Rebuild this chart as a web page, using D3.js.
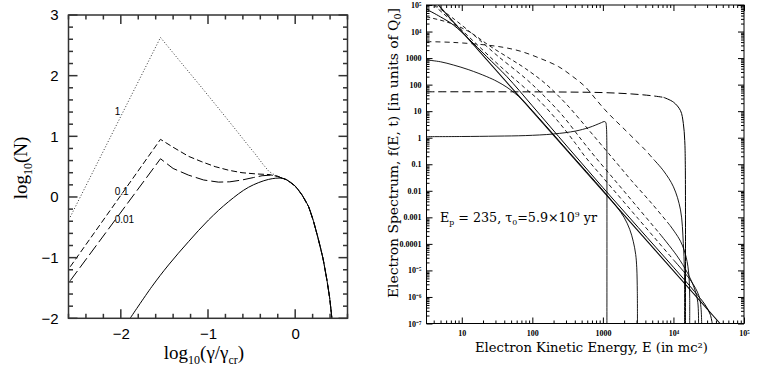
<!DOCTYPE html>
<html><head><meta charset="utf-8">
<script src="https://cdn.jsdelivr.net/npm/d3@7"></script>
<style>body{margin:0;background:#fff}</style>
</head><body>
<svg id="c" width="761" height="373" xmlns="http://www.w3.org/2000/svg"></svg>
<script>
// ---------------- LEFT PANEL DATA: [log10(gamma/gamma_cr), log10(N)] ----------------
const leftCurveLabels = ["1", "0.1", "0.01"];
const leftDotted = [[-2.58,-0.33],[-1.545,2.63],[-1.3,2.2],[-1.07,1.8],[-0.85,1.41],[-0.688,1.12],[-0.55,0.87],[-0.459,0.71],[-0.37,0.54],[-0.3,0.42],[-0.22,0.35],[-0.15,0.31]];
const leftDash01 = [[-2.58,-1.15],[-1.545,0.95],[-1.4,0.82],[-1.223,0.67],[-1.07,0.58],[-0.918,0.5],[-0.76,0.44],[-0.61,0.4],[-0.45,0.38],[-0.3,0.37],[-0.2,0.34],[-0.15,0.31]];
const leftDash001 = [[-2.58,-1.38],[-1.545,0.63],[-1.4,0.47],[-1.223,0.36],[-1.05,0.28],[-0.88,0.245],[-0.75,0.25],[-0.61,0.28],[-0.48,0.32],[-0.38,0.35],[-0.28,0.36],[-0.2,0.34],[-0.15,0.31]];
const leftSolid = [[-1.893,-2.0],[-1.644,-1.478],[-1.453,-1.121],[-1.223,-0.736],[-0.994,-0.379],[-0.764,-0.077],[-0.535,0.16],[-0.305,0.29],[-0.153,0.31]];
const leftTail = [[-0.1,0.285],[0,0.18],[0.08,0.03],[0.154,-0.16],[0.21,-0.4],[0.268,-0.71],[0.32,-1.02],[0.364,-1.37],[0.395,-1.66],[0.421,-2.0]];
const leftTicksX = [-2,-1,0];
const leftTickLabelsX = ["\u22122","\u22121","0"];
const leftTicksY = [-2,-1,0,1,2,3];
const leftTickLabelsY = ["\u22122","\u22121","0","1","2","3"];

// ---------------- RIGHT PANEL DATA: [log10(E), log10(f)] ----------------
const rA  = [[0.5,0.04],[1.0,0.045],[1.5,0.06],[1.9,0.08],[2.3,0.14],[2.61,0.25],[2.8,0.38],[2.9,0.48],[2.98,0.57],[3.02,0.61],[3.04,0.58],[3.05,0.4],[3.055,0],[3.057,-1],[3.057,-7]];
const rB  = [[0.5,2.93],[0.7,2.86],[0.88,2.74],[1.1,2.56],[1.355,2.3],[1.5,2.12],[1.64,1.9],[1.75,1.68],[1.85,1.45],[2.0,1.02],[2.5,-0.48],[3.0,-1.98],[3.2,-2.62],[3.3,-3.0],[3.38,-3.45],[3.43,-3.9],[3.465,-4.4],[3.48,-4.9],[3.488,-5.8],[3.49,-7]];
const rP1 = [[0.668,5],[4.66,-7]];
const rP2 = [[0.5,4.84],[0.7,4.55],[0.88,4.25],[1.1,3.72],[1.355,3.05],[1.64,2.3],[2.0,1.2],[2.5,-0.35],[3.0,-1.88],[3.5,-3.38],[4.0,-4.88],[4.3,-5.8],[4.45,-6.3],[4.52,-6.65],[4.55,-7]];
const rDa = [[0.5,3.62],[0.88,3.59],[1.355,3.49],[1.6,3.4],[1.83,3.26],[2.1,3.0],[2.37,2.68],[2.55,2.35],[2.75,1.92],[2.9,1.45],[3.03,1.05],[3.15,0.72],[3.27,0.41],[3.46,-0.09],[3.6,-0.46],[3.72,-0.82],[3.86,-1.25],[4.0,-1.85],[4.1,-2.72],[4.14,-3.98],[4.155,-5],[4.157,-7]];
const rC  = [[0.5,1.73],[1.5,1.73],[2.5,1.72],[3.0,1.7],[3.4,1.65],[3.7,1.58],[3.86,1.52],[4.0,1.34],[4.1,1.02],[4.14,0.54],[4.16,-0.1],[4.168,-1],[4.17,-7]];
const rL2 = [[0.5,4.55],[0.8,4.35],[1.1,4.0],[1.4,3.45],[1.7,2.95],[1.9,2.61],[2.18,2.05],[2.47,1.3],[2.8,0.29],[3.08,-0.59],[3.22,-1.03],[3.4,-1.6],[3.7,-2.5],[3.95,-3.3],[4.1,-3.9],[4.18,-4.5],[4.22,-5.2],[4.23,-6],[4.23,-7]];
const rL3 = [[0.62,5],[0.9,4.45],[1.2,3.8],[1.5,3.1],[1.9,2.24],[2.13,1.67],[2.42,0.86],[2.7,-0.09],[2.89,-0.72],[3.2,-1.7],[3.5,-2.65],[3.8,-3.6],[4.05,-4.45],[4.2,-5.1],[4.3,-5.7],[4.345,-6.2],[4.356,-7]];
const rL4 = [[0.6,5],[0.9,4.3],[1.2,3.55],[1.5,2.8],[1.9,1.86],[2.09,1.42],[2.37,0.6],[2.61,-0.21],[2.75,-0.72],[3.0,-1.5],[3.5,-3.05],[4.0,-4.6],[4.25,-5.4],[4.36,-5.95],[4.39,-6.4],[4.4,-7]];
const rightTicksX = [10,100,1000,1e4,1e5];
const rightTickLabelsX = ["10","100","1000","10\u2074","10\u2075"];
const rightTicksY = [1e5,1e4,1e3,1e2,10,1,0.1,0.01,1e-3,1e-4,1e-5,1e-6,1e-7];
const rightTickLabelsY = ["10\u2075","10\u2074","1000","100","10","1","0.1","0.01","0.001","0.0001","10\u207B\u2075","10\u207B\u2076","10\u207B\u2077"];

// ---------------- DRAW ----------------
const svg = d3.select("#c");
svg.append("rect").attr("width",761).attr("height",373).attr("fill","#fff");

// LEFT
const L = {x0:68.5, x1:347.5, y0:15, y1:318.3};
const xL = d3.scaleLinear().domain([-2.6,0.6]).range([L.x0,L.x1]);
const yL = d3.scaleLinear().domain([-2,3]).range([L.y1,L.y0]);
const gL = svg.append("g");
const lineL = d3.line().x(d=>xL(d[0])).y(d=>yL(d[1]));
const lineLs = d3.line().x(d=>xL(d[0])).y(d=>yL(d[1])).curve(d3.curveCatmullRom.alpha(0.5));
gL.append("defs").append("clipPath").attr("id","clipL").append("rect")
  .attr("x",L.x0).attr("y",L.y0).attr("width",L.x1-L.x0).attr("height",L.y1-L.y0);
const plotL = gL.append("g").attr("clip-path","url(#clipL)").attr("fill","none");
plotL.append("path").attr("d",lineL(leftDotted.concat(leftTail))).attr("stroke","#333").attr("stroke-width",1).attr("stroke-dasharray","1,2");
plotL.append("path").attr("d",lineL(leftDash01.concat(leftTail))).attr("stroke","#000").attr("stroke-width",1).attr("stroke-dasharray","6,3");
plotL.append("path").attr("d",lineL(leftDash001.concat(leftTail))).attr("stroke","#000").attr("stroke-width",1).attr("stroke-dasharray","12,4");
plotL.append("path").attr("d",lineLs(leftSolid.concat(leftTail))).attr("stroke","#000").attr("stroke-width",1);

function minorRange(a,b,step){const r=[];for(let v=a;v<=b+1e-9;v+=step){r.push(+v.toFixed(3));}return r;}
const minorXL = minorRange(-2.6,0.6,0.2).filter(v=>Math.abs(v-Math.round(v))>1e-6);
const minorYL = minorRange(-2,3,0.2).filter(v=>Math.abs(v-Math.round(v))>1e-6);
function styleAxis(g){g.select(".domain").remove();g.selectAll("line").attr("stroke","#000").attr("stroke-width",1);}
const lFont = "Liberation Sans, Arial, sans-serif";
// tick labels via d3 axes
gL.append("g").attr("transform",`translate(0,${L.y1})`)
  .call(d3.axisBottom(xL).tickValues(leftTicksX).tickSize(0).tickPadding(10).tickFormat((d,i)=>leftTickLabelsX[i]))
  .call(styleAxis).selectAll("text").attr("font-family",lFont).attr("font-size",15).attr("fill","#000");
gL.append("g").attr("transform",`translate(${L.x0},0)`)
  .call(d3.axisLeft(yL).tickValues(leftTicksY).tickSize(0).tickPadding(10).tickFormat((d,i)=>leftTickLabelsY[i]))
  .call(styleAxis).selectAll("text").attr("font-family",lFont).attr("font-size",15).attr("fill","#000");
// inward tick marks on all four sides
const tickG = gL.append("g").attr("stroke","#333").attr("stroke-width",1.5);
function xTicks(vals,len){
  vals.forEach(v=>{
    tickG.append("line").attr("x1",xL(v)).attr("x2",xL(v)).attr("y1",L.y1).attr("y2",L.y1-len);
    tickG.append("line").attr("x1",xL(v)).attr("x2",xL(v)).attr("y1",L.y0).attr("y2",L.y0+len);
  });
}
function yTicks(vals,len){
  vals.forEach(v=>{
    tickG.append("line").attr("y1",yL(v)).attr("y2",yL(v)).attr("x1",L.x0).attr("x2",L.x0+len);
    tickG.append("line").attr("y1",yL(v)).attr("y2",yL(v)).attr("x1",L.x1).attr("x2",L.x1-len);
  });
}
xTicks(leftTicksX,9); xTicks(minorXL,4.5);
yTicks(leftTicksY,9); yTicks(minorYL,4.5);
gL.append("rect").attr("x",L.x0).attr("y",L.y0).attr("width",L.x1-L.x0).attr("height",L.y1-L.y0).attr("fill","none").attr("stroke","#333").attr("stroke-width",1.5);

// curve labels
const labPos = [[-2.07,1.35],[-2.07,0.03],[-2.07,-0.43]];
gL.selectAll("text.cl").data(leftCurveLabels).enter().append("text").attr("class","cl")
  .attr("x",(d,i)=>xL(labPos[i][0])).attr("y",(d,i)=>yL(labPos[i][1]))
  .attr("font-family",lFont).attr("font-size",10).attr("fill","#000").text(d=>d);

// left axis titles
const serif = "Liberation Serif, Times New Roman, serif";
const tY = gL.append("text").attr("transform","translate(27,168) rotate(-90)").attr("text-anchor","middle")
  .attr("font-family",serif).attr("font-size",19).attr("fill","#000");
tY.append("tspan").text("log");
tY.append("tspan").attr("dy",5).attr("font-size",12).text("10");
tY.append("tspan").attr("dy",-5).text("(N)");
const tX = gL.append("text").attr("x",204).attr("y",359).attr("text-anchor","middle")
  .attr("font-family",serif).attr("font-size",19).attr("fill","#000");
tX.append("tspan").text("log");
tX.append("tspan").attr("dy",5).attr("font-size",12).text("10");
tX.append("tspan").attr("dy",-5).text("(\u03B3/\u03B3");
tX.append("tspan").attr("dy",5).attr("font-size",12).text("cr");
tX.append("tspan").attr("dy",-5).text(")");

// RIGHT
const xR = d3.scaleLog().domain([Math.sqrt(10),1e5]).range([426.5,744]);
const yR = d3.scaleLog().domain([1e-7,1e5]).range([323.5,5]);
const gR = svg.append("g");
gR.append("defs").append("clipPath").attr("id","clipR").append("rect")
  .attr("x",426.5).attr("y",5).attr("width",317.5).attr("height",318.5);
const plotR = gR.append("g").attr("clip-path","url(#clipR)").attr("fill","none");
const lineR = d3.line().x(d=>xR(Math.pow(10,d[0]))).y(d=>yR(Math.pow(10,d[1]))).curve(d3.curveCatmullRom.alpha(0.5));
// dashed curves turn solid-looking on their steep high-energy cutoffs (as in the original plot)
const rSeries = [
  {d:rA, dash:null, w:0.9},
  {d:rB, dash:null, w:0.9},
  {d:rP1, dash:null, w:1.1},
  {d:rP2, dash:null, w:1.0},
  {d:rDa, dash:"5,4", w:0.9, solidFrom:3.62},
  {d:rC, dash:"8,4", w:1.0, solidFrom:3.86},
  {d:rL2, dash:"4,3", w:0.9, solidFrom:3.8},
  {d:rL3, dash:"4,3", w:0.9, solidFrom:3.75},
  {d:rL4, dash:"4,3", w:0.9, solidFrom:3.7}
];
rSeries.forEach(s=>{
  if(!s.dash){
    plotR.append("path").attr("d",lineR(s.d)).attr("stroke","#000").attr("stroke-width",s.w);
  } else {
    const idx = s.d.findIndex(p=>p[0]>=s.solidFrom);
    plotR.append("path").attr("d",lineR(s.d.slice(0,idx+1))).attr("stroke","#000").attr("stroke-width",s.w).attr("stroke-dasharray",s.dash);
    plotR.append("path").attr("d",lineR(s.d.slice(idx))).attr("stroke","#000").attr("stroke-width",s.w);
  }
});

// right ticks
const minorXR=[], minorYR=[];
for(let e=0;e<5;e++){for(let k=2;k<=9;k++){const v=k*Math.pow(10,e); if(v>=Math.sqrt(10)&&v<=1e5) minorXR.push(v);}}
for(let e=-7;e<5;e++){for(let k=2;k<=9;k++){minorYR.push(k*Math.pow(10,e));}}
const rFont = "Liberation Serif, Times New Roman, serif";
gR.append("g").attr("transform","translate(0,323.5)")
  .call(d3.axisBottom(xR).tickValues(rightTicksX).tickSize(-6).tickPadding(7).tickFormat((d,i)=>rightTickLabelsX[i]))
  .call(styleAxis).selectAll("text").attr("font-family",rFont).attr("font-weight","bold").attr("font-size",8).attr("fill","#000");
gR.append("g").attr("transform","translate(0,323.5)").call(d3.axisBottom(xR).tickValues(minorXR).tickSize(-3).tickFormat("")).call(styleAxis);
gR.append("g").attr("transform","translate(0,5)").call(d3.axisTop(xR).tickValues(rightTicksX).tickSize(-6).tickFormat("")).call(styleAxis);
gR.append("g").attr("transform","translate(0,5)").call(d3.axisTop(xR).tickValues(minorXR).tickSize(-3).tickFormat("")).call(styleAxis);
gR.append("g").attr("transform","translate(426.5,0)")
  .call(d3.axisLeft(yR).tickValues(rightTicksY).tickSize(-6).tickPadding(5).tickFormat((d,i)=>rightTickLabelsY[i]))
  .call(styleAxis).selectAll("text").attr("font-family",rFont).attr("font-weight","bold").attr("font-size",8).attr("fill","#000");
gR.append("g").attr("transform","translate(426.5,0)").call(d3.axisLeft(yR).tickValues(minorYR).tickSize(-3).tickFormat("")).call(styleAxis);
gR.append("g").attr("transform","translate(744,0)").call(d3.axisRight(yR).tickValues(rightTicksY).tickSize(-6).tickFormat("")).call(styleAxis);
gR.append("g").attr("transform","translate(744,0)").call(d3.axisRight(yR).tickValues(minorYR).tickSize(-3).tickFormat("")).call(styleAxis);
gR.append("rect").attr("x",426.5).attr("y",5).attr("width",317.5).attr("height",318.5).attr("fill","none").attr("stroke","#000").attr("stroke-width",1);

// right titles
const tf = "DejaVu Serif, serif";
const rY = gR.append("text").attr("transform","translate(398,153) rotate(-90)").attr("text-anchor","middle")
  .attr("font-family",tf).attr("font-size",13).attr("fill","#000")
  .attr("textLength",290).attr("lengthAdjust","spacingAndGlyphs");
rY.append("tspan").text("Electron Spectrum, f(E, t) [in units of Q");
rY.append("tspan").attr("dy",3).attr("font-size",9).text("0");
rY.append("tspan").attr("dy",-3).text("]");
gR.append("text").attr("x",591.5).attr("y",351.5).attr("text-anchor","middle")
  .attr("font-family",tf).attr("font-size",13).attr("fill","#000")
  .attr("textLength",233).attr("lengthAdjust","spacingAndGlyphs")
  .text("Electron Kinetic Energy, E (in mc\u00B2)");
const ann = gR.append("text").attr("x",440).attr("y",221.5)
  .attr("font-family",tf).attr("font-size",13).attr("fill","#000")
  .attr("textLength",157).attr("lengthAdjust","spacingAndGlyphs");
ann.append("tspan").text("E");
ann.append("tspan").attr("dy",3).attr("font-size",8).text("p");
ann.append("tspan").attr("dy",-3).text(" = 235, \u03C4");
ann.append("tspan").attr("dy",3).attr("font-size",8).text("0");
ann.append("tspan").attr("dy",-3).text("=5.9\u00D710");
ann.append("tspan").attr("dy",-5).attr("font-size",8).text("9");
ann.append("tspan").attr("dy",5).text(" yr");
</script>
</body></html>
